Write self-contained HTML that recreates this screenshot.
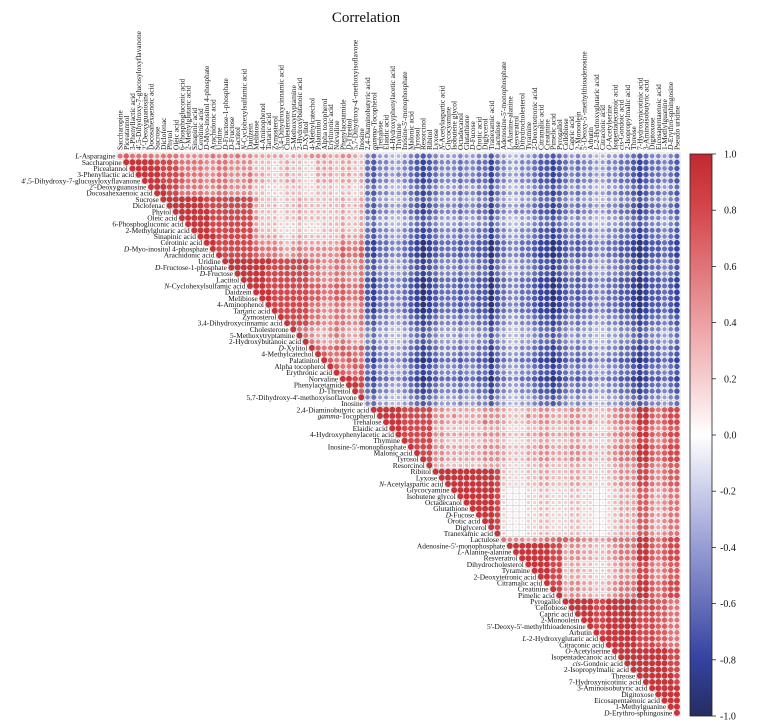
<!DOCTYPE html>
<html><head><meta charset="utf-8"><style>
html,body{margin:0;padding:0;background:#fff;}
svg{display:block;font-family:"Liberation Serif",serif;}
</style></head><body>
<svg id="chart" width="771" height="724" viewBox="0 0 771 724" xmlns="http://www.w3.org/2000/svg">
<text x="366" y="22" font-size="15" text-anchor="middle" fill="#111">Correlation</text>
<g id="grid"></g>
<g id="rowlabels"></g>
<g id="collabels"></g>
<g id="cbar"></g>
</svg>
<script>
const variables = ["*L*-Asparagine","Saccharopine","Piceatannol","3-Phenyllactic acid","4',5-Dihydroxy-7-glucosyloxyflavanone","2'-Deoxyguanosine","Docosahexaenoic acid","Sucrose","Diclofenac","Phytol","Oleic acid","6-Phosphogluconic acid","2-Methylglutaric acid","Sinapinic acid","Cerotinic acid","*D*-Myo-inositol 4-phosphate","Arachidonic acid","Uridine","*D*-Fructose-1-phosphate","*D*-Fructose","Lactitol","*N*-Cyclohexylsulfamic acid","Daidzein","Melibiose","4-Aminophenol","Tartaric acid","Zymosterol","3,4-Dihydroxycinnamic acid","Cholesterone","5-Methoxytryptamine","2-Hydroxybutanoic acid","*D*-Xylitol","4-Methylcatechol","Palatinitol","Alpha tocopherol","Erythronic acid","Norvaline","Phenylacetamide","*D*-Threitol","5,7-Dihydroxy-4'-methoxyisoflavone","Inosine","2,4-Diaminobutyric acid","*gamma*-Tocopherol","Trehalose","Elaidic acid","4-Hydroxyphenylacetic acid","Thymine","Inosine-5'-monophosphate","Malonic acid","Tyrosol","Resorcinol","Ribitol","Lyxose","*N*-Acetylaspartic acid","Glycocyamine","Isobutene glycol","Octadecanol","Glutathione","*D*-Fucose","Orotic acid","Diglycerol","Tranexamic acid","Lactulose","Adenosine-5'-monophosphate","*L*-Alanine-alanine","Resveratrol","Dihydrocholesterol","Tyramine","2-Deoxytetronic acid","Citramalic acid","Creatinine","Pimelic acid","Pyrogallol","Cellobiose","Capric acid","2-Monoolein","5'-Deoxy-5'-methylthioadenosine","Arbutin","*L*-2-Hydroxyglutaric acid","Citraconic acid","*O*-Acetylserine","Isopentadecanoic acid","*cis*-Gondoic acid","2-Isopropylmalic acid","Threose","7-Hydroxynicotinic acid","3-Aminoisobutyric acid","Digitoxose","Eicosapentaenoic acid","1-Methylguanine","*D*-Erythro-sphingosine","Pseudo uridine"];
// correlation codes: digit d => +d/10, letter a..i => -(1..9)/10
const corrRows = [
"6766665666555556565655444443444555445543"+"efddccdefg"+"fedddeddee"+"gedccddeff"+"gfededdccd"+"deefgfeede"+"f",
"999998887"+"666655665555"+"333234332244434433"+"fgeeddefgh"+"gfeeefeeff"+"hfeddeefgg"+"hgfefeedde"+"effghgffef"+"g",
"99999888"+"666655665555"+"333234332244434433"+"fgeeddefgh"+"gfeeefeeff"+"hfeddeefgg"+"hgfefeedde"+"effghgffef"+"g",
"9999888"+"766655665556"+"443234332244434434"+"fgeedeefgh"+"gfeeefeeff"+"hfeddeefgg"+"hgfefeedde"+"effghgffef"+"g",
"999888"+"766656665556"+"443334432244434434"+"fgeeddefgh"+"gfeeefefff"+"hfeddeefgg"+"hgfefeedde"+"effghgffef"+"g",
"99988"+"666655665555"+"332223332233323323"+"efddccdefg"+"fedddeddee"+"gedccddeff"+"gfededdccd"+"deefgfeede"+"f",
"9988"+"666655665555"+"332223332233323323"+"fgeeddefgh"+"gfeeefeeff"+"hfeddeefgg"+"hgfefeedde"+"effghgffef"+"g",
"999"+"999988888888"+"533323343333334334"+"efddccdefg"+"fedddeddee"+"gedccddeff"+"gfededdccd"+"deefgfeede"+"f",
"99"+"999988888888"+"433323343333334334"+"fgeeddefgh"+"gfeeefeeff"+"hfeddeefgg"+"hgfefeedde"+"effghgffef"+"g",
"9"+"999998888888"+"433323343333334334"+"fgeeddefgh"+"gfeeefeeff"+"hfedeeefgg"+"hgfefeedde"+"effghgffef"+"g",
"999998888888"+"533323343333334334"+"efddccdefg"+"fedddeddee"+"gedccddeff"+"gfededdccd"+"deefgfeede"+"f",
"99998888888"+"433322232223334334"+"efddccdefg"+"fedddeddee"+"gedccddeff"+"gfededdccd"+"deefgfeede"+"f",
"9998888888"+"533322232223334334"+"fgeeddefgh"+"gfeeefeeff"+"hfeddeefgg"+"hgfefeedde"+"effghgffef"+"g",
"999888888"+"544432343333335445"+"fgeeddefgh"+"gfeeefeeff"+"hfeddeefgg"+"hgfefeedde"+"effghgffef"+"g",
"99888888"+"655543454444446556"+"ghffeefghi"+"hgfffgffgg"+"igfeeffghh"+"ihgfgffeef"+"fgghihggfg"+"h",
"9888888"+"766654565555557667"+"ghffeefghi"+"hgfffgffgg"+"igfeeffghh"+"ihgfgffeef"+"fgghihggfg"+"h",
"988888"+"766654565555557667"+"ghffeefghi"+"hgfffgffgg"+"igfeeffghh"+"ihgfgffeef"+"fgghihggfg"+"h",
"99999999888888"+"665566556"+"fgeeddefgh"+"gfeeefeeff"+"hfeddeefgg"+"hgfefeedde"+"effghgffef"+"g",
"9999998888888"+"665566556"+"fgeeddefgh"+"gfeeefeeff"+"hfeddeefgg"+"hgfefeedde"+"effghgffef"+"g",
"999998888888"+"665566556"+"fgeeddefgh"+"gfeeefeeff"+"hfeddeefgg"+"hgfefeedde"+"effghgffef"+"g",
"99998888888"+"665566556"+"ghffeefghi"+"hgfffgffgg"+"igfeeffghh"+"ihgfgffeef"+"fgghihggfg"+"h",
"9998888888"+"776677667"+"ghffeefghi"+"hgfffgffgg"+"igfeeffghh"+"ihgfgffeef"+"fgghihggfg"+"h",
"999888888"+"776677667"+"ghffeefghi"+"hgfffgffgg"+"igfeeffghh"+"ihgfgffeef"+"fgghihggfg"+"h",
"99888888"+"776677667"+"ghffeefghi"+"hgfffgffgg"+"igfeeffghh"+"ihgfgffeef"+"fgghihggfg"+"h",
"9888888"+"665566556"+"ghffeefghi"+"hgfffgffgg"+"igfeeffghh"+"ihgfgffeef"+"fgghihggfg"+"h",
"988888"+"665566556"+"ghffeefghi"+"hgfffgffgg"+"igfeeffghh"+"ihgfgffeef"+"fgghihggfg"+"h",
"98888"+"665566556"+"fgeeddefgh"+"gfeeefeeff"+"hfeddeefgg"+"hgfefeedde"+"effghgffef"+"g",
"9888"+"665566556"+"fgeeddefgh"+"gfeeefeeff"+"hfeddeefgg"+"hgfefeedde"+"effghgffef"+"g",
"966544565445"+"efddccdefg"+"fedddeddee"+"gedccddeff"+"gfededdccd"+"deefgfeede"+"f",
"96544565445"+"efddccdefg"+"fedddeddee"+"gedccddeff"+"gfededdccd"+"deefgfeede"+"f",
"9654456544"+"efddccdefg"+"fedddeddee"+"gedccddeff"+"gfededdccd"+"deefgfeede"+"f",
"976677667"+"fgeeddefgh"+"gfeeefeeff"+"hfeddeefgg"+"hgfefeedde"+"effghgffef"+"g",
"97667766"+"fgeeddefgh"+"gfeeefeeff"+"hfeddeefgg"+"hgfefeedde"+"effghgffef"+"g",
"9766776"+"ghffeefghi"+"hgfffgffgg"+"igfeeffghh"+"ihgfgffeef"+"fgghihggfg"+"h",
"976677"+"fgeeddefgh"+"gfeeefeeff"+"hfeddeefgg"+"hgfefeedde"+"effghgffef"+"g",
"97667"+"fgeeddefgh"+"gfeeefeeff"+"hfeddeefgg"+"hgfefeedde"+"effghgffef"+"g",
"9988"+"ghffeefghi"+"hgfffgffgg"+"igfeeffghh"+"ihgfgffeef"+"fgghihggfg"+"h",
"998"+"fgeeddefgh"+"gfeeefeeff"+"hfeddeefgg"+"hgfefeedde"+"effghgffef"+"g",
"97"+"fgeeddefgh"+"gfeeefeeff"+"hfeddeefgg"+"hgfefeedde"+"effghgffef"+"g",
"9"+"efddccdefg"+"fedddeddee"+"gedccddeff"+"gfededdccd"+"deefgfeede"+"f",
"efddccdefg"+"fedddeddee"+"gedccddeff"+"gfededdccd"+"deefgfeede"+"f",
"9999988888"+"5544444455"+"5433344554"+"4455443345"+"6669976788",
"999988888"+"5545444455"+"5433354554"+"4455443345"+"6669976788",
"99988888"+"5544444465"+"5433344554"+"4455453345"+"6669976788",
"9988888"+"4433333344"+"4322233443"+"3344332234"+"5558865677",
"988888"+"5544444455"+"5433344554"+"4455443345"+"6669976788",
"98888"+"4433333344"+"4322233443"+"3344332234"+"5558865677",
"9888"+"5544444455"+"5433344554"+"4455443345"+"6669976788",
"988"+"5544444455"+"5433344554"+"4455443345"+"6669976788",
"98"+"5544444455"+"5433344554"+"4455443345"+"6669976788",
"9"+"4433333344"+"4322233443"+"3344332234"+"5558865677",
"99999999998"+"322233443"+"3344332234"+"5558865677",
"9999999998"+"322233443"+"3344332234"+"5558865677",
"999999998"+"322233443"+"3344332234"+"5558865677",
"99999998"+"211122332"+"2233221123"+"4447754566",
"9999998"+"211122332"+"2233221123"+"4447754566",
"999998"+"211122332"+"2233221123"+"4447754566",
"99998"+"211122332"+"2233221123"+"4447754566",
"9998"+"211122332"+"2233221123"+"4447754566",
"998"+"211122332"+"2233221123"+"4447754566",
"98"+"211122332"+"2233221123"+"4447754566",
"9"+"211122332"+"2233221123"+"4447754566",
"655545566"+"7766554456"+"6669976788",
"999999988"+"455443345"+"6669976788",
"99999988"+"455443345"+"6669976788",
"9999988"+"455443345"+"6669976788",
"999988"+"344332234"+"5558865677",
"99988"+"344332234"+"5558865677",
"9988"+"344332234"+"5558865677",
"988"+"455443345"+"6669976788",
"98"+"455443345"+"6669976788",
"9"+"455443345"+"6669976788",
"99999889999988877"+"66",
"9999889999988877"+"66",
"999889999988877"+"66",
"99889999988877"+"66",
"9889999988877"+"66",
"989999988877"+"66",
"99999988877"+"66",
"9999988877"+"66",
"99999999988",
"9999999988",
"999999988",
"99999988",
"9999998",
"999998",
"99999",
"9999",
"999",
"99",
"9"
];
const colorbarTicks = ["1.0","0.8","0.6","0.4","0.2","0.0","-0.2","-0.4","-0.6","-0.8","-1.0"];

const NS="http://www.w3.org/2000/svg";
const N=corrRows.length;
const X0=117, Y0=153, X1=680, Y1=716;
const cs=(X1-X0)/N;
function xScale(j){return X0+j*cs;}
function yScale(i){return Y0+i*cs;}
function decode(ch){
  if(ch>='0'&&ch<='9'){const d=+ch;return d===9?0.93:d/10;}
  const k=ch.charCodeAt(0)-96;return -(k===9?0.93:k/10);
}
const stops=[[-1,[37,45,96]],[-0.8,[52,66,160]],[-0.4,[150,156,212]],[0,[255,255,255]],[0.2,[246,205,207]],[0.4,[236,160,163]],[0.8,[212,71,76]],[1,[192,42,48]]];
function color(v){
  for(let k=0;k<stops.length-1;k++){const a=stops[k],b=stops[k+1];
    if(v>=a[0]&&v<=b[0]){const t=(v-a[0])/(b[0]-a[0]);
      const c=a[1].map((x,q)=>Math.round(x+(b[1][q]-x)*t));return `rgb(${c[0]},${c[1]},${c[2]})`;}}
  return "#fff";
}
function el(tag,attrs,parent){const e=document.createElementNS(NS,tag);for(const k in attrs)e.setAttribute(k,attrs[k]);parent.appendChild(e);return e;}
function addLabel(t,str){
  str.split('*').forEach((seg,idx)=>{if(!seg)return;const ts=document.createElementNS(NS,'tspan');if(idx%2===1)ts.setAttribute('font-style','italic');ts.textContent=seg;t.appendChild(ts);});
}
const grid=document.getElementById('grid');
for(let i=0;i<N;i++){
  const row=corrRows[i];
  for(let k=0;k<row.length;k++){
    const j=i+k; const v=decode(row[k]);
    const x=xScale(j), y=yScale(i);
    const r=el('rect',{x:x,y:y,width:cs,height:cs,fill:'#fff',stroke:'#cfcfcf','stroke-width':0.6},grid);
    
    
    const c=el('circle',{cx:x+cs/2,cy:y+cs/2,r:Math.max(0.3,0.5*cs*Math.pow(Math.abs(v),0.4)),fill:color(v)},grid);
    
    
  }
}
const rl=document.getElementById('rowlabels');
for(let i=0;i<N;i++){
  const t=el('text',{x:xScale(i)-1.5,y:yScale(i)+cs/2+2.5,'font-size':7.4,'text-anchor':'end',fill:'#111'},rl);
  
  
  addLabel(t,variables[i]);
}
const cl=document.getElementById('collabels');
for(let j=0;j<N;j++){
  const x=xScale(j)+cs/2+2.5, y=Y0-3;
  const t=el('text',{x:x,y:y,'font-size':7.4,transform:`rotate(-90 ${x} ${y})`,fill:'#111'},cl);
  
  
  addLabel(t,variables[j+1]);
}
const cb=document.getElementById('cbar');
const CBX=690,CBW=22,CBT=154,CBB=716;
const defs=el('defs',{},cb);
const lg=el('linearGradient',{id:'cg',x1:0,y1:0,x2:0,y2:1},defs);
for(let k=stops.length-1;k>=0;k--){const s=stops[k];el('stop',{offset:((1-s[0])/2*100)+'%','stop-color':`rgb(${s[1].join(',')})`},lg);}
const bar=el('rect',{x:CBX,y:CBT,width:CBW,height:CBB-CBT,fill:'url(#cg)',stroke:'#222','stroke-width':0.8},cb);


colorbarTicks.forEach(lab=>{
  const v=parseFloat(lab); const y=CBT+(1-v)/2*(CBB-CBT);
  el('line',{x1:CBX+CBW,x2:CBX+CBW+4,y1:y,y2:y,stroke:'#222','stroke-width':0.8},cb);
  const t=el('text',{x:CBX+CBW+8+(v<0?0:4),y:y+3.5,'font-size':10,fill:'#111'},cb);
  
  
  t.textContent=lab;
});
</script>
</body></html>
